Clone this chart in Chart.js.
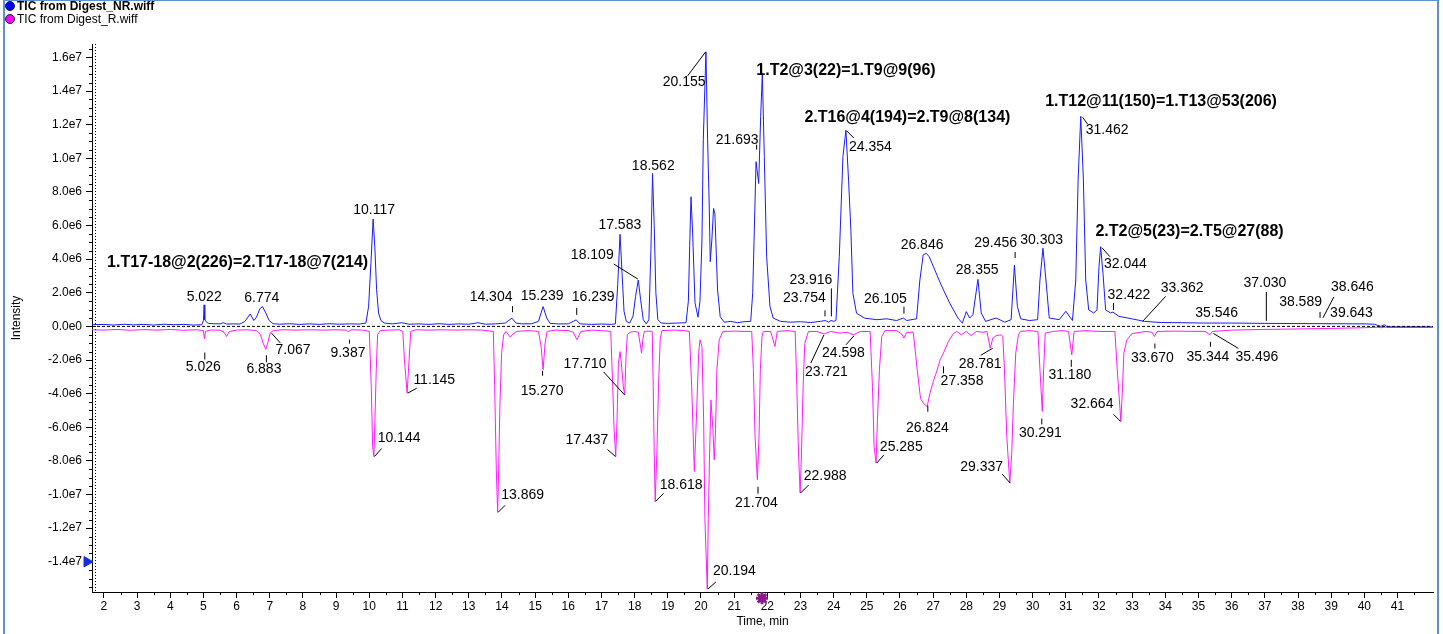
<!DOCTYPE html>
<html>
<head>
<meta charset="utf-8">
<title>TIC overlay</title>
<script src="https://cdn.jsdelivr.net/npm/chart.js@4.4.1/dist/chart.umd.min.js"></script>
<style>
  html, body { margin: 0; padding: 0; background: #fff; }
  #wrap { position: relative; width: 1443px; height: 634px; }
  #frame { position: absolute; left: 3px; top: 0; width: 1436px; height: 634px;
           border-left: 2px solid #5b8fd6; border-top: 1px solid #5b8fd6; border-right: 2px solid #5b8fd6;
           box-sizing: border-box; pointer-events: none; }
  canvas { position: absolute; left: 0; top: 0; }
</style>
</head>
<body>
<div id="wrap">
  <canvas id="tic" width="1443" height="634"></canvas>
  <div id="frame"></div>
</div>
<script>
// series names
var seriesNames = ['TIC from Digest_NR.wiff', 'TIC from Digest_R.wiff'];

// axis ticks
var xTicks = [2, 3, 4, 5, 6, 7, 8, 9, 10, 11, 12, 13, 14, 15, 16, 17, 18, 19, 20, 21,
              22, 23, 24, 25, 26, 27, 28, 29, 30, 31, 32, 33, 34, 35, 36, 37, 38, 39, 40, 41];
var yTicks = [-1.4e7, -1.2e7, -1.0e7, -8.0e6, -6.0e6, -4.0e6, -2.0e6, 0,
              2.0e6, 4.0e6, 6.0e6, 8.0e6, 1.0e7, 1.2e7, 1.4e7, 1.6e7];

// TIC from Digest_NR.wiff  [time (min), intensity]
var nrPoints = [
  [1.64, 0.10e6], [2.0, 0.12e6], [2.3, 0.08e6], [2.6, 0.13e6], [2.9, 0.09e6], [3.2, 0.12e6],
  [3.5, 0.08e6], [3.8, 0.13e6], [4.1, 0.10e6], [4.4, 0.12e6], [4.7, 0.08e6], [4.95, 0.10e6],
  [5.0, 0.35e6], [5.02, 1.28e6], [5.04, 0.40e6], [5.08, 0.28e6], [5.15, 0.18e6], [5.3, 0.16e6],
  [5.5, 0.15e6], [5.6, 0.22e6], [5.7, 0.14e6], [5.9, 0.15e6], [6.1, 0.14e6], [6.25, 0.30e6],
  [6.41, 0.74e6], [6.52, 0.35e6], [6.6, 0.55e6], [6.70, 1.05e6], [6.78, 1.18e6], [6.88, 0.80e6],
  [6.98, 0.35e6], [7.1, 0.16e6], [7.3, 0.13e6], [7.6, 0.16e6], [7.9, 0.12e6], [8.2, 0.15e6],
  [8.5, 0.12e6], [8.8, 0.16e6], [9.1, 0.13e6], [9.4, 0.15e6], [9.7, 0.14e6], [9.9, 0.20e6],
  [9.98, 1.2e6], [10.05, 3.8e6], [10.117, 6.39e6], [10.17, 4.6e6], [10.22, 2.2e6], [10.28, 0.8e6],
  [10.35, 0.35e6], [10.45, 0.20e6], [10.7, 0.15e6], [10.98, 0.22e6], [11.2, 0.13e6], [11.5, 0.15e6],
  [11.8, 0.12e6], [12.1, 0.16e6], [12.4, 0.12e6], [12.7, 0.15e6], [13.0, 0.13e6], [13.28, 0.22e6],
  [13.5, 0.13e6], [13.8, 0.15e6], [14.1, 0.20e6], [14.3, 0.49e6], [14.42, 0.20e6], [14.6, 0.15e6],
  [14.9, 0.16e6], [15.1, 0.30e6], [15.24, 1.18e6], [15.35, 0.50e6], [15.45, 0.18e6], [15.7, 0.15e6],
  [16.0, 0.15e6], [16.24, 0.39e6], [16.35, 0.15e6], [16.7, 0.12e6], [17.0, 0.14e6], [17.3, 0.12e6],
  [17.42, 0.15e6], [17.49, 2.5e6], [17.56, 5.48e6], [17.62, 3.2e6], [17.68, 0.9e6], [17.75, 0.3e6],
  [17.85, 0.2e6], [17.95, 0.6e6], [18.03, 1.8e6], [18.11, 2.76e6], [18.18, 1.6e6], [18.26, 0.4e6],
  [18.35, 0.15e6], [18.43, 0.4e6], [18.49, 4.5e6], [18.54, 9.1e6], [18.59, 6.0e6], [18.64, 2.0e6],
  [18.7, 0.4e6], [18.8, 0.2e6], [19.0, 0.18e6], [19.3, 0.2e6], [19.55, 0.22e6], [19.62, 1.5e6],
  [19.66, 4.8e6], [19.70, 7.71e6], [19.75, 5.5e6], [19.82, 1.4e6], [19.91, 0.55e6], [19.97, 1.5e6],
  [20.03, 5.14e6], [20.07, 11.1e6], [20.15, 16.33e6], [20.2, 11.1e6], [20.25, 7.1e6], [20.28, 3.85e6],
  [20.33, 5.2e6], [20.38, 7.02e6], [20.42, 6.7e6], [20.5, 2.17e6], [20.58, 0.58e6], [20.7, 0.25e6],
  [20.9, 0.3e6], [21.1, 0.22e6], [21.3, 0.28e6], [21.5, 0.3e6], [21.56, 2.0e6], [21.6, 5.1e6],
  [21.66, 9.8e6], [21.74, 8.5e6], [21.80, 12.5e6], [21.85, 15.04e6], [21.91, 10.1e6], [21.98, 4.15e6],
  [22.08, 1.18e6], [22.18, 0.49e6], [22.4, 0.3e6], [22.7, 0.25e6], [23.0, 0.28e6], [23.3, 0.23e6],
  [23.6, 0.3e6], [23.75, 0.35e6], [23.85, 0.25e6], [23.92, 0.35e6], [24.0, 0.3e6], [24.07, 0.35e6],
  [24.17, 4.15e6], [24.28, 10.1e6], [24.37, 11.68e6], [24.45, 8.7e6], [24.52, 5.7e6], [24.58, 1.97e6],
  [24.69, 0.78e6], [24.94, 0.49e6], [25.3, 0.4e6], [25.6, 0.45e6], [25.9, 0.35e6], [26.1, 0.5e6],
  [26.2, 0.35e6], [26.5, 0.45e6], [26.6, 2.76e6], [26.70, 4.25e6], [26.79, 4.35e6], [26.88, 4.15e6],
  [27.05, 3.36e6], [27.24, 2.47e6], [27.5, 1.38e6], [27.75, 0.49e6], [27.88, 0.19e6], [28.0, 0.88e6],
  [28.1, 0.5e6], [28.2, 0.7e6], [28.35, 2.8e6], [28.45, 0.8e6], [28.58, 0.3e6], [28.9, 0.5e6],
  [29.16, 0.25e6], [29.35, 0.4e6], [29.45, 3.65e6], [29.54, 1.18e6], [29.64, 0.45e6], [29.9, 0.35e6],
  [30.15, 0.4e6], [30.22, 2.76e6], [30.31, 4.65e6], [30.40, 2.76e6], [30.5, 0.5e6], [30.8, 0.4e6],
  [31.0, 0.9e6], [31.2, 0.35e6], [31.30, 2.76e6], [31.37, 8.7e6], [31.45, 12.5e6], [31.53, 8.7e6],
  [31.6, 2.76e6], [31.69, 0.98e6], [31.84, 0.8e6], [31.94, 0.98e6], [32.0, 3.55e6], [32.05, 4.74e6],
  [32.12, 3.16e6], [32.2, 0.98e6], [32.35, 0.8e6], [32.42, 0.85e6], [32.6, 0.6e6], [32.99, 0.45e6],
  [33.37, 0.3e6], [33.88, 0.23e6], [34.5, 0.22e6], [35.15, 0.2e6], [36.0, 0.2e6], [37.0, 0.18e6],
  [38.0, 0.17e6], [39.0, 0.16e6], [40.0, 0.15e6], [40.3, 0.13e6], [40.5, 0.0], [40.6, 0.1e6],
  [40.7, -0.03e6], [42.07, -0.03e6]
];

// TIC from Digest_R.wiff (drawn mirrored, negative)
var rPoints = [
  [1.64, -0.20e6], [2.0, -0.22e6], [2.4, -0.18e6], [2.8, -0.23e6], [3.2, -0.19e6], [3.6, -0.22e6],
  [4.0, -0.18e6], [4.4, -0.23e6], [4.8, -0.20e6], [5.0, -0.25e6], [5.03, -0.75e6], [5.06, -0.3e6],
  [5.2, -0.22e6], [5.5, -0.22e6], [5.62, -0.35e6], [5.70, -0.6e6], [5.78, -0.3e6], [6.0, -0.22e6],
  [6.3, -0.2e6], [6.6, -0.25e6], [6.72, -0.5e6], [6.80, -1.0e6], [6.88, -1.36e6], [6.95, -0.9e6],
  [7.01, -0.4e6], [7.1, -0.25e6], [7.4, -0.2e6], [7.8, -0.22e6], [8.2, -0.2e6], [8.6, -0.22e6],
  [9.0, -0.2e6], [9.3, -0.22e6], [9.37, -0.31e6], [9.45, -0.2e6], [9.8, -0.22e6], [10.0, -0.3e6],
  [10.06, -3.58e6], [10.1, -7.14e6], [10.14, -7.74e6], [10.17, -5.56e6], [10.21, -2.58e6], [10.25, -0.5e6],
  [10.33, -0.25e6], [10.6, -0.22e6], [10.9, -0.2e6], [11.01, -0.3e6], [11.06, -1.99e6], [11.14, -3.97e6],
  [11.2, -1.99e6], [11.25, -0.3e6], [11.4, -0.2e6], [11.8, -0.22e6], [12.2, -0.2e6], [12.6, -0.22e6],
  [13.0, -0.2e6], [13.4, -0.22e6], [13.74, -0.3e6], [13.78, -3.58e6], [13.83, -8.53e6], [13.87, -11.06e6],
  [13.90, -8.53e6], [13.94, -4.56e6], [13.99, -1.59e6], [14.05, -0.5e6], [14.12, -0.3e6], [14.25, -0.64e6],
  [14.33, -0.45e6], [14.45, -0.3e6], [14.8, -0.25e6], [15.1, -0.3e6], [15.18, -1.2e6], [15.24, -2.58e6],
  [15.3, -1.0e6], [15.36, -0.3e6], [15.6, -0.22e6], [16.0, -0.25e6], [16.15, -0.35e6], [16.26, -0.8e6],
  [16.38, -0.3e6], [16.7, -0.22e6], [17.0, -0.25e6], [17.28, -0.3e6], [17.34, -3.58e6], [17.38, -6.1e6],
  [17.43, -7.74e6], [17.47, -5.56e6], [17.51, -2.19e6], [17.56, -1.5e6], [17.6, -2.2e6], [17.66, -3.6e6],
  [17.70, -4.07e6], [17.74, -1.79e6], [17.78, -0.5e6], [17.85, -0.35e6], [18.0, -0.3e6], [18.11, -0.35e6],
  [18.21, -1.59e6], [18.25, -0.75e6], [18.29, -0.3e6], [18.45, -0.28e6], [18.53, -0.3e6], [18.56, -3.58e6],
  [18.59, -7.54e6], [18.62, -10.41e6], [18.67, -7.54e6], [18.72, -3.58e6], [18.77, -0.8e6], [18.82, -0.25e6],
  [19.2, -0.22e6], [19.5, -0.25e6], [19.65, -0.3e6], [19.72, -3.58e6], [19.80, -8.63e6], [19.86, -5.56e6],
  [19.93, -1.59e6], [19.97, -0.8e6], [20.03, -1.2e6], [20.08, -5.56e6], [20.12, -11.5e6], [20.19, -15.62e6],
  [20.22, -11.5e6], [20.26, -7.54e6], [20.30, -4.37e6], [20.36, -6.15e6], [20.40, -7.93e6], [20.44, -6.15e6],
  [20.48, -2.58e6], [20.55, -0.8e6], [20.66, -0.3e6], [21.0, -0.28e6], [21.3, -0.3e6], [21.53, -0.3e6],
  [21.58, -2.58e6], [21.63, -6.55e6], [21.70, -9.12e6], [21.75, -6.55e6], [21.79, -2.58e6], [21.84, -0.6e6],
  [21.88, -0.3e6], [22.1, -0.3e6], [22.23, -1.2e6], [22.3, -0.3e6], [22.6, -0.25e6], [22.84, -0.3e6],
  [22.89, -3.58e6], [22.94, -7.54e6], [22.99, -9.91e6], [23.03, -7.54e6], [23.08, -3.58e6], [23.13, -1.0e6],
  [23.24, -0.3e6], [23.5, -0.3e6], [23.72, -0.45e6], [23.9, -0.3e6], [24.2, -0.4e6], [24.4, -0.35e6],
  [24.6, -0.5e6], [24.8, -0.3e6], [25.1, -0.3e6], [25.17, -3.58e6], [25.22, -7.14e6], [25.28, -8.13e6],
  [25.32, -5.56e6], [25.38, -2.58e6], [25.45, -0.6e6], [25.55, -0.25e6], [25.9, -0.25e6], [26.05, -0.45e6],
  [26.12, -0.7e6], [26.2, -0.35e6], [26.4, -0.35e6], [26.52, -2.58e6], [26.62, -4.3e6], [26.72, -4.6e6],
  [26.82, -4.77e6], [26.90, -4.0e6], [27.0, -3.3e6], [27.12, -2.6e6], [27.21, -1.98e6], [27.31, -1.59e6],
  [27.46, -0.9e6], [27.6, -0.45e6], [27.71, -0.3e6], [27.85, -0.5e6], [28.0, -0.3e6], [28.15, -0.55e6],
  [28.3, -0.3e6], [28.5, -0.35e6], [28.62, -0.3e6], [28.72, -1.3e6], [28.8, -0.7e6], [28.9, -0.55e6],
  [29.05, -0.5e6], [29.1, -0.6e6], [29.15, -2.58e6], [29.22, -6.55e6], [29.31, -9.32e6], [29.37, -7.54e6],
  [29.42, -4.57e6], [29.49, -1.59e6], [29.57, -0.5e6], [29.63, -0.3e6], [29.9, -0.25e6], [30.16, -0.3e6],
  [30.22, -2.58e6], [30.29, -5.06e6], [30.33, -2.58e6], [30.38, -0.4e6], [30.6, -0.3e6], [30.9, -0.25e6],
  [31.08, -0.3e6], [31.18, -1.69e6], [31.25, -0.3e6], [31.6, -0.25e6], [32.0, -0.3e6], [32.48, -0.3e6],
  [32.55, -2.58e6], [32.66, -5.65e6], [32.71, -3.58e6], [32.75, -1.59e6], [32.84, -0.8e6], [32.99, -0.43e6],
  [33.4, -0.3e6], [33.6, -0.35e6], [33.67, -0.6e6], [33.75, -0.3e6], [34.3, -0.28e6], [35.2, -0.3e6],
  [35.34, -0.5e6], [35.42, -0.3e6], [36.0, -0.22e6], [37.0, -0.18e6], [38.0, -0.15e6], [39.0, -0.12e6],
  [40.0, -0.08e6], [40.4, -0.05e6], [40.5, -0.08e6], [40.6, -0.05e6], [42.07, -0.05e6]
];

// peak labels (retention time, intensity at the label)
var nrPeakLabels = ['5.022', '6.774', '10.117', '14.304', '15.239', '16.239', '17.583', '18.109', '18.562',
  '20.155', '21.693', '23.754', '23.916', '24.354', '26.105', '26.846', '28.355', '29.456', '30.303',
  '31.462', '32.044', '32.422', '33.362', '35.546', '37.030', '38.589', '38.646', '39.643'];
var nrPeakHeights = [1.28e6, 1.18e6, 6.39e6, 0.49e6, 1.18e6, 0.39e6, 5.48e6, 2.76e6, 9.1e6,
  16.33e6, 9.8e6, 0.3e6, 0.3e6, 11.68e6, 0.4e6, 4.35e6, 2.8e6, 3.65e6, 4.65e6,
  12.5e6, 4.74e6, 0.8e6, 0.3e6, 0.2e6, 0.15e6, 0.15e6, 0.15e6, 0.15e6];

var rPeakLabels = ['5.026', '6.883', '7.067', '9.387', '10.144', '11.145', '13.869', '15.270', '17.437',
  '17.710', '18.618', '20.194', '21.704', '22.988', '23.721', '24.598', '25.285', '26.824', '27.358',
  '28.781', '29.337', '30.291', '31.180', '32.664', '33.670', '35.344', '35.496'];
var rPeakHeights = [-0.6e6, -1.36e6, -0.4e6, -0.31e6, -7.74e6, -3.97e6, -11.06e6, -2.4e6, -7.74e6,
  -4.07e6, -10.41e6, -15.62e6, -9.12e6, -9.91e6, -0.45e6, -0.5e6, -8.13e6, -4.6e6, -1.9e6,
  -1.3e6, -9.32e6, -5.06e6, -1.69e6, -5.65e6, -0.6e6, -0.5e6, -0.3e6];

// peptide assignments
var idLabels = ['1.T17-18@2(226)=2.T17-18@7(214)', '1.T2@3(22)=1.T9@9(96)', '2.T16@4(194)=2.T9@8(134)',
  '1.T12@11(150)=1.T13@53(206)', '2.T2@5(23)=2.T5@27(88)'];
var idTimes = [10.117, 21.85, 24.354, 31.462, 32.044];
var idHeights = [6.39e6, 15.04e6, 11.68e6, 12.5e6, 4.74e6];

// label placement: [dx, dy, line x1, y1, x2, y2] in px from the anchor
var nrLabelLayout = [
  [0, -8], [-0.5, -8], [1, -9], [-21, -21, 0, -12, 0, -6], [-1, -10], [17, -23, 0, -12, 0, -5],
  [-1, -9], [-46, -25, -25, -16, -1, -1], [0, -7], [-22, 30, -19, 24, -1, 0], [-20, -22, -1, -17, -1, -12],
  [-21, -23, -1, -11, -1, -5], [-20, -41, 0, -33, 0, -5], [25, 17, 1, 1, 8, 8], [-18, -21, 0, -13, 0, -6],
  [-6, -8], [-1, -9], [-19, -22, 0, -13, 0, -7], [-1, -8], [26, 14, 1, 1, 6, 8], [25, 17, 1, 1, 9, 10],
  [16, -18, 0, -10, 0, -3], [38, -33, 21, -25, -2, 0], [0, -10], [-1, -41, 0, -32, 0, -3],
  [-17, -22, 2, -12, 2, -6], [33, -37, 14, -27, 3, -6], [-1, -11]
];
var rLabelLayout = [
  [-1, 31, 0, 16, 0, 23], [-2, 20, 0, 6, 0, 13], [21, 17, -1, 0, 8, 10], [-1, 22, 0, 8, 0, 12],
  [25, -18, 0, 0, 7, -8], [27, -13, 0, 0, 9, -5], [25, -17, 0, 0, 7, -7], [-2, 24, -2, 4, -2, 9],
  [-29, -16, -9, -7, -1, 0], [-40, -31, -22, -23, -1, 0], [26, -16, 0, 0, 8, -8], [27, -18, 0, 0, 8, -7],
  [-1, 23, 0, 7, 0, 14], [25, -17, 0, 0, 8, -8], [2, 38, -14, 29, -1, 1], [-10, 18, -8, 10, 0, 1],
  [25, -16, 0, 0, 7, -8], [0, 24, 0, 2, 0, 8], [17, 23, -2, 8, -2, 15], [-12, 16, -12, 7, 0, 0],
  [-29, -16, -9, -9, -1, 0], [-2, 22, -1, 7, -1, 13], [-2, 20, -1, 5, -1, 12], [-29, -17, -8, -7, -1, 0],
  [-2, 22, 0, 7, 0, 12], [-2, 22, 0, 7, 0, 12], [42, 26, -2, 2, 23, 17]
];
var idLayout = [['right', -5, 44], ['left', -6, -3], ['left', -41, -12], ['left', -36, -15], ['left', -5, -15]];

var labelFont = '14px "Liberation Sans", Arial, sans-serif';
var idFont = 'bold 16px "Liberation Sans", Arial, sans-serif';

function toXY(points) {
  return points.map(function (p) { return { x: p[0], y: p[1] }; });
}

// Desenha rótulos dos picos, legenda e ticks menores
var decorPlugin = {
  id: 'decor',
  afterDatasetsDraw: function (chart) {
    var ctx = chart.ctx, xs = chart.scales.x, ys = chart.scales.y, area = chart.chartArea;
    ctx.save();

    // dotted line along the y axis
    ctx.strokeStyle = '#000';
    ctx.lineWidth = 1;
    ctx.setLineDash([1, 2]);
    ctx.beginPath();
    ctx.moveTo(area.left + 3.5, area.top);
    ctx.lineTo(area.left + 3.5, area.bottom);
    ctx.stroke();
    ctx.setLineDash([]);

    function drawLabels(labels, heights, layout) {
      for (var i = 0; i < labels.length; i++) {
        var px = xs.getPixelForValue(parseFloat(labels[i]));
        var py = ys.getPixelForValue(heights[i]);
        var l = layout[i];
        if (l.length > 2) {
          ctx.beginPath();
          ctx.moveTo(px + l[2] + 0.5, py + l[3]);
          ctx.lineTo(px + l[4] + 0.5, py + l[5]);
          ctx.stroke();
        }
        ctx.fillText(labels[i], px + l[0], py + l[1]);
      }
    }
    ctx.font = labelFont;
    ctx.fillStyle = '#000';
    ctx.strokeStyle = '#000';
    ctx.textAlign = 'center';
    ctx.textBaseline = 'middle';
    drawLabels(nrPeakLabels, nrPeakHeights, nrLabelLayout);
    drawLabels(rPeakLabels, rPeakHeights, rLabelLayout);

    ctx.font = idFont;
    for (var k = 0; k < idLabels.length; k++) {
      var ix = xs.getPixelForValue(idTimes[k]);
      var iy = ys.getPixelForValue(idHeights[k]);
      ctx.textAlign = idLayout[k][0];
      ctx.fillText(idLabels[k], ix + idLayout[k][1], iy + idLayout[k][2]);
    }

    // minor ticks
    ctx.beginPath();
    for (var t = 2.5; t < xs.max; t += 1) {
      var tx = Math.round(xs.getPixelForValue(t)) + 0.5;
      ctx.moveTo(tx, area.bottom);
      ctx.lineTo(tx, area.bottom + 3);
    }
    for (var v = -1.55e7; v < ys.max; v += 5e5) {
      if (Math.abs(v % 2e6) < 1) continue;
      var ty = Math.round(ys.getPixelForValue(v)) + 0.5;
      ctx.moveTo(area.left - 3, ty);
      ctx.lineTo(area.left, ty);
    }
    ctx.stroke();

    // legend
    var colors = ['#0000ff', '#ff00ff'];
    for (var s = 0; s < seriesNames.length; s++) {
      var cy = 6 + s * 13;
      ctx.beginPath();
      ctx.arc(10, cy, 4.5, 0, Math.PI * 2);
      ctx.fillStyle = colors[s];
      ctx.fill();
      ctx.strokeStyle = '#222';
      ctx.stroke();
      ctx.fillStyle = '#000';
      ctx.textAlign = 'left';
      ctx.font = (s === 0 ? 'bold ' : '') + '12px "Liberation Sans", Arial, sans-serif';
      ctx.fillText(seriesNames[s], 17, cy + 1);
    }
    ctx.restore();
  }
};

var ctx = document.getElementById('tic').getContext('2d');

var ticChart = new Chart(ctx, {
  type: 'line',
  data: {
    datasets: [
      {
        label: 'zero',
        data: [{ x: 1.64, y: 0 }, { x: 42.07, y: 0 }],
        borderColor: '#000',
        borderWidth: 1,
        borderDash: [3, 2],
        pointRadius: 0
      },
      {
        label: seriesNames[0],
        data: toXY(nrPoints),
        borderColor: '#1a1aff',
        borderWidth: 1,
        pointRadius: 0
      },
      {
        label: seriesNames[1],
        data: toXY(rPoints),
        borderColor: '#ff1aff',
        borderWidth: 1,
        pointRadius: 0
      },
      {
        label: 'cursor',
        data: [{ x: 1.49, y: -1.4e7 }],
        showLine: false,
        pointStyle: 'triangle',
        rotation: 90,
        pointRadius: 6,
        backgroundColor: '#1030e0',
        borderColor: '#1030e0',
        clip: false
      },
      {
        label: 'marker',
        data: [{ x: 21.84, y: -1.617e7 }],
        showLine: false,
        pointStyle: 'star',
        pointRadius: 6,
        borderWidth: 3,
        borderColor: '#8a1a8a',
        clip: false
      }
    ]
  },
  options: {
    responsive: false,
    animation: false,
    events: [],
    layout: { padding: { left: 4, right: 10, top: 44, bottom: 0 } },
    plugins: {
      legend: { display: false },
      tooltip: { enabled: false }
    },
    scales: {
      x: {
        type: 'linear',
        min: 1.64,
        max: 42.07,
        afterBuildTicks: function (scale) {
          scale.ticks = xTicks.map(function (v) { return { value: v }; });
        },
        afterFit: function (scale) { scale.height = 42; },
        ticks: {
          autoSkip: false,
          maxRotation: 0,
          padding: 1,
          color: '#000',
          font: { family: '"Liberation Sans", Arial, sans-serif', size: 12 },
          callback: function (v) { return String(v); }
        },
        grid: { drawOnChartArea: false, tickLength: 6, color: '#000' },
        border: { color: '#000', width: 1 },
        title: {
          display: true,
          text: 'Time, min',
          color: '#000',
          padding: { top: 0, bottom: 5 },
          font: { family: '"Liberation Sans", Arial, sans-serif', size: 12 }
        }
      },
      y: {
        min: -1.58e7,
        max: 1.68e7,
        afterBuildTicks: function (scale) {
          scale.ticks = yTicks.map(function (v) { return { value: v }; });
        },
        afterFit: function (scale) { scale.width = 88; },
        ticks: {
          autoSkip: false,
          padding: 4,
          color: '#000',
          font: { family: '"Liberation Sans", Arial, sans-serif', size: 12 },
          callback: function (v) { return Number(v).toExponential(1).replace('+', ''); }
        },
        grid: { drawOnChartArea: false, tickLength: 6, color: '#000' },
        border: { color: '#000', width: 1 },
        title: {
          display: true,
          text: 'Intensity',
          color: '#000',
          padding: { top: 5, bottom: 0 },
          font: { family: '"Liberation Sans", Arial, sans-serif', size: 12 }
        }
      }
    }
  },
  plugins: [decorPlugin]
});
</script>
</body>
</html>
